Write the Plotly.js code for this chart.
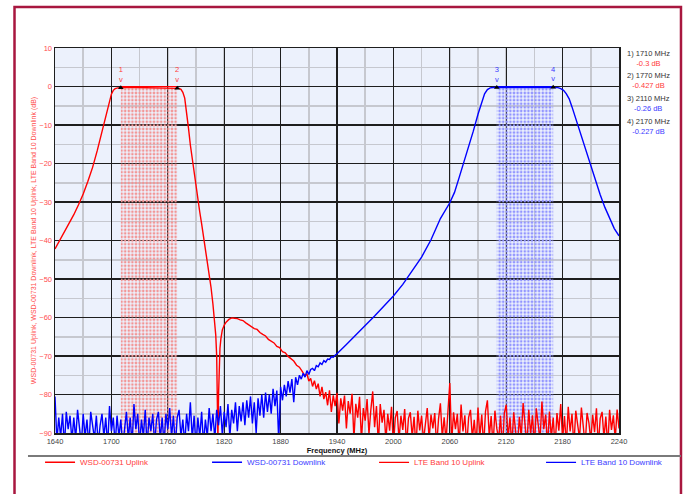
<!DOCTYPE html>
<html><head><meta charset="utf-8">
<script src="https://cdn.plot.ly/plotly-3.0.1.min.js"></script>
<style>html,body{margin:0;padding:0;background:#fff;} #chart{width:686px;height:494px;}</style>
</head><body><div id="chart"></div>
<script>
// ---- WSD-00731 Uplink (red) ----
const upSmoothFreq = [1640,1645,1650,1655,1660,1665,1670,1675,1680,1685,1690,1693,1696,1698,1700,1702,1704,1707,1710,1725,1740,1755,1770,1772,1774,1776,1778,1780,1782,1784,1786,1788,1790,1792,1794,1796,1798,1800,1802,1804,1806,1808,1810,1811,1812,1812.7,1813.3,1814,1814.7,1815.5,1816.5,1818,1820,1822,1825,1828,1831,1834,1837,1840,1843,1846,1849,1852,1855,1858,1861,1864,1867,1870,1873,1876,1879,1882,1885,1888,1891,1894,1897,1900,1903];
const upSmoothDb = [-42.2,-40,-38,-35.7,-33.3,-30.7,-27.9,-24.6,-21,-16.6,-11.7,-8.6,-5.5,-3.6,-2,-1,-0.55,-0.35,-0.3,-0.27,-0.3,-0.35,-0.427,-0.5,-0.75,-1.5,-3,-6.3,-10.8,-15.2,-18.9,-22.5,-26,-29.3,-32.6,-35.7,-38.8,-42,-45.2,-48.5,-52.2,-56.5,-61.5,-64.5,-70,-79,-92,-80,-70.5,-68,-65.5,-63.2,-62,-61.2,-60.5,-60.1,-60.2,-60.3,-60.6,-60.8,-61.4,-61.9,-62.2,-62.9,-63.1,-63.9,-64.4,-64.8,-65.7,-66.1,-66.6,-67.5,-67.8,-68.9,-69.2,-70.1,-70.8,-71.3,-72.4,-72.9,-74.0];
const upNoiseFreq = [1906,1908,1910,1912,1914,1916,1918,1920,1922,1924,1926,1928,1930,1932,1934,1936,1938,1940,1942,1944,1946,1948,1950,1952,1954,1956,1958,1960,1962,1964,1966,1968,1970,1972,1974,1976,1978,1980,1982,1984,1986,1988,1990,1992,1994,1996,1998,2000,2002,2004,2006,2008,2010,2012,2014,2016,2018,2020,2022,2024,2026,2028,2030,2032,2034,2036,2038,2040,2042,2044,2046,2048,2050,2052,2054,2056,2058,2060,2062,2064,2066,2068,2070,2072,2074,2076,2078,2080,2082,2084,2086,2088,2090,2092,2094,2096,2098,2100,2102,2104,2106,2108,2110,2112,2114,2116,2118,2120,2122,2124,2126,2128,2130,2132,2134,2136,2138,2140,2142,2144,2146,2148,2150,2152,2154,2156,2158,2160,2162,2164,2166,2168,2170,2172,2174,2176,2178,2180,2182,2184,2186,2188,2190,2192,2194,2196,2198,2200,2202,2204,2206,2208,2210,2212,2214,2216,2218,2220,2222,2224,2226,2228,2230,2232,2234,2236,2238,2240];
const upNoiseDb = [-75.2,-74.6,-76.5,-75.8,-77.9,-76.4,-78.6,-77.2,-80.5,-78,
-81.2,-79.4,-82.8,-78.9,-84.5,-80.2,-83,-79.6,-87.5,-81,
-84.2,-80.3,-88.8,-81.7,-85,-79.8,-91.5,-82.4,-86,-80.6,
-92,-83.5,-86.8,-81.2,-90.2,-84,-79.2,-88.5,-83,-93,
-82.5,-87.3,-84,-92,-85,-89.4,-83.2,-93.5,-86,-84.3,
-91.8,-85.5,-89.2,-83.8,-93.4,-86.2,-84.6,-91,-85.8,-94,
-84.2,-89.3,-85.5,-92,-86.8,-83.5,-91.6,-85.2,-88.8,-84.8,
-93.5,-86.4,-82.3,-91.2,-85.9,-92.2,-84.5,-77,-92.5,-84.6,
-89,-85,-93.3,-82.6,-89.6,-85.4,-93.6,-86,-84,-91.4,
-86.6,-93.2,-83.4,-90.8,-85.2,-93.5,-84.4,-81.5,-91,-85.6,
-93.4,-84.2,-88.8,-91.6,-85.5,-94.7,-84.8,-82.7,-91.3,-86,
-93.2,-84.6,-89.5,-93.6,-85.8,-91,-82.2,-87.6,-93.1,-84,
-90.2,-85.4,-93.5,-83.6,-87.8,-91.9,-81.8,-89,-85.2,-93.4,
-84.4,-91.2,-86,-93.6,-84.8,-89.4,-82.5,-91.8,-85.6,-93.3,
-83.2,-89.6,-85,-93.5,-84.2,-87.9,-91.4,-83.4,-89.5,-93.2,
-84.8,-87.4,-91.9,-85.3,-89.8,-83.6,-93.4,-86.2,-84.5,-91.3,
-85.7,-93.5,-84,-89.2,-85.4,-91.7,-83.9,-88.8];

// ---- WSD-00731 Downlink (blue) ----
const dnNoiseFreq = [1640,1642,1644,1646,1648,1650,1652,1654,1656,1658,1660,1662,1664,1666,1668,1670,1672,1674,1676,1678,1680,1682,1684,1686,1688,1690,1692,1694,1696,1698,1700,1702,1704,1706,1708,1710,1712,1714,1716,1718,1720,1722,1724,1726,1728,1730,1732,1734,1736,1738,1740,1742,1744,1746,1748,1750,1752,1754,1756,1758,1760,1762,1764,1766,1768,1770,1772,1774,1776,1778,1780,1782,1784,1786,1788,1790,1792,1794,1796,1798,1800,1802,1804,1806,1808,1810,1812,1814,1816,1818,1820,1822,1824,1826,1828,1830,1832,1834,1836,1838,1840,1842,1844,1846,1848,1850,1852,1854,1856,1858,1860,1862,1864,1866,1868,1870,1872,1874,1876,1878,1880,1882,1884,1886,1888,1890,1892,1894,1896,1898,1900,1902,1904,1906,1908,1910,1912,1914,1916,1918,1920,1922,1924,1926,1928,1930,1932,1934,1936,1938];
const dnNoiseDb = [-80.5,-92,-86,-91,-85,-93.5,-84.5,-89,-85.5,-92,
-86,-91.5,-84,-89.5,-93,-85,-91,-86.5,-93.5,-84.5,
-89,-91.5,-85.5,-93,-88,-85,-91,-86,-93.5,-83,
-89.5,-86,-93,-85.5,-91,-86.5,-93.5,-88,-84.5,-91.5,
-86,-93,-82.5,-89,-85,-93,-86.5,-91,-84,-93.5,
-86,-89.5,-85,-93,-86.5,-84.5,-91.5,-86,-93,-85,
-89,-83.5,-91,-85.5,-93.5,-86,-84,-91,-86.5,-93,
-85,-89.5,-82,-91.5,-85.5,-93.5,-86,-91,-84.5,-93,
-86.5,-91,-83.5,-89.5,-85,-91.5,-84,-88,-83,-90.5,
-84.5,-88.5,-82.5,-91,-84,-87.5,-82,-89.5,-83,-87,
-82,-88,-81.5,-86,-80.5,-87.5,-82,-90,-81,-85.5,
-80,-86,-79.5,-84.5,-80,-85,-78.5,-83,-79,-92,
-78,-81.5,-77.5,-80.5,-76.5,-79.5,-76,-82,-75.5,-77.5,
-75,-76,-74.5,-75.5,-73.8,-74.8,-73.5,-73.2,-73.8,-72.5,
-72.8,-71.8,-72.2,-71.2,-71.6,-70.8,-70.9,-70.2,-70.3,-69.8];
const dnSmoothFreq = [1940,1950,1960,1970,1980,1990,2000,2010,2020,2030,2040,2050,2060,2065,2070,2075,2080,2085,2090,2094,2097,2100,2103,2106,2110,2140,2170,2175,2178,2181,2184,2187,2190,2193,2196,2200,2205,2210,2215,2220,2225,2230,2235,2240];
const dnSmoothDb = [-69.4,-67,-64.6,-62.2,-59.6,-57,-54.4,-51.4,-48,-44.3,-39.8,-34.3,-30.2,-27.5,-23.6,-19.8,-15.6,-11.6,-7.2,-4,-1.9,-0.8,-0.35,-0.25,-0.26,-0.2,-0.227,-0.3,-0.55,-1,-1.9,-3.2,-5.3,-7.6,-9.8,-13,-16.9,-20.9,-24.6,-28.1,-31.4,-34.3,-36.9,-38.8];

// ---- LTE Band 10 bands ----
const lteUpBand = [1710, 1770];
const lteDownBand = [2110, 2170];
const bandLevel = 0;
const bandFloor = -90;

// ---- Markers ----
const markerFreq = [1710, 1770, 2110, 2170];
const markerDb = [-0.3, -0.427, -0.26, -0.227];
const markerLabels = ['1', '2', '3', '4'];

// ---- Axis ticks ----
const xTicks = [1640,1700,1760,1820,1880,1940,2000,2060,2120,2180,2240];
const yTicks = [10,0,-10,-20,-30,-40,-50,-60,-70,-80,-90];

const RED = '#ff0000', BLUE = '#0000ff';
const RED_TXT = '#ff3b3b', BLUE_TXT = '#3b3bff';
const markerColors = [RED_TXT, RED_TXT, BLUE_TXT, BLUE_TXT];

function rect(band) {
  return {x: [band[0], band[0], band[1], band[1], band[0]], y: [bandFloor, bandLevel, bandLevel, bandFloor, bandFloor]};
}
const upRect = rect(lteUpBand), dnRect = rect(lteDownBand);

const traces = [
  {x: upRect.x, y: upRect.y, type: 'scatter', mode: 'lines', fill: 'toself', line: {width: 0, color: 'rgba(0,0,0,0)'},
   fillcolor: 'rgba(0,0,0,0)',
   fillpattern: {shape: '.', size: 3.6, solidity: 0.42, fgcolor: '#f29494', bgcolor: 'rgba(0,0,0,0)'},
   showlegend: false, hoverinfo: 'skip', legendgroup: 'lteup'},
  {x: dnRect.x, y: dnRect.y, type: 'scatter', mode: 'lines', fill: 'toself', line: {width: 0, color: 'rgba(0,0,0,0)'},
   fillcolor: 'rgba(0,0,0,0)',
   fillpattern: {shape: '.', size: 3.6, solidity: 0.42, fgcolor: '#9194ff', bgcolor: 'rgba(0,0,0,0)'},
   showlegend: false, hoverinfo: 'skip', legendgroup: 'ltedn'},
  {x: upSmoothFreq.concat(upNoiseFreq), y: upSmoothDb.concat(upNoiseDb), type: 'scatter', mode: 'lines',
   name: '<span style="color:' + RED_TXT + '">WSD-00731 Uplink</span>', line: {color: RED, width: 1.4}},
  {x: dnNoiseFreq.concat(dnSmoothFreq), y: dnNoiseDb.concat(dnSmoothDb), type: 'scatter', mode: 'lines',
   name: '<span style="color:' + BLUE_TXT + '">WSD-00731 Downlink</span>', line: {color: BLUE, width: 1.4}},
  {x: lteUpBand, y: [bandLevel, bandLevel], type: 'scatter', mode: 'lines', legendgroup: 'lteup',
   name: '<span style="color:' + RED_TXT + '">LTE Band 10 Uplink</span>', line: {color: RED, width: 1.2}},
  {x: lteDownBand, y: [bandLevel, bandLevel], type: 'scatter', mode: 'lines', legendgroup: 'ltedn', legendwidth: 88,
   name: '<span style="color:' + BLUE_TXT + '">LTE Band 10 Downlink</span>', line: {color: BLUE, width: 1.2}},
  {x: markerFreq, y: markerDb, type: 'scatter', mode: 'markers+text', showlegend: false,
   marker: {symbol: 'triangle-up', size: 5, color: '#000'},
   text: markerLabels.map(l => l + '<br>v'), textposition: 'top center',
   textfont: {size: 7.5, color: markerColors}}
];

// right-side readouts
const readoutY = [0.974, 0.916, 0.857, 0.797];
const annotations = markerFreq.map((f, i) => ({
  xref: 'paper', yref: 'paper', x: 1.0523, y: readoutY[i], xanchor: 'center', yanchor: 'middle', align: 'center',
  showarrow: false, font: {size: 7.5, color: '#333'},
  text: markerLabels[i] + ') ' + f + ' MHz<br><span style="color:' + markerColors[i] + '">' + markerDb[i] + ' dB</span>'
}));

const layout = {
  width: 686, height: 494,
  margin: {l: 55, r: 67, t: 48, b: 61, pad: 0, autoexpand: false},
  paper_bgcolor: '#ffffff',
  plot_bgcolor: '#ecf1fc',
  font: {family: 'Liberation Sans, Arial, sans-serif', size: 8, color: '#333'},
  showlegend: true,
  legend: {orientation: 'h', x: 1.0976, y: -0.0385, xanchor: 'right', yanchor: 'top',
           entrywidth: 122, entrywidthmode: 'pixels', font: {size: 8}, bgcolor: 'rgba(0,0,0,0)',
           traceorder: 'normal'},
  xaxis: {range: [1640, 2240], tickvals: xTicks, showgrid: true, gridcolor: '#1e1e1e', gridwidth: 1.3,
          minor: {dtick: 30, tick0: 1640, showgrid: true, gridcolor: '#c6c8cf', gridwidth: 1.5},
          showline: true, linecolor: '#1e1e1e', linewidth: 1.5, mirror: true, zeroline: false, ticks: '',
          tickfont: {size: 7.5, color: '#444'},
          title: {text: '<b>Frequency (MHz)</b>', font: {size: 7.5, color: '#111'}, standoff: 3}},
  yaxis: {range: [-90, 10], tickvals: yTicks, showgrid: true, gridcolor: '#1e1e1e', gridwidth: 1.3,
          minor: {dtick: 5, tick0: 0, showgrid: true, gridcolor: '#c6c8cf', gridwidth: 1.5},
          showline: true, linecolor: '#1e1e1e', linewidth: 1.5, mirror: true, zeroline: false, ticks: '',
          tickfont: {size: 7.5, color: '#ff4d4d'},
          title: {text: 'WSD-00731 Uplink, WSD-00731 Downlink, LTE Band 10 Uplink, LTE Band 10 Downlink (dB)',
                  font: {size: 7, color: '#ff4d4d'}, standoff: 2}},
  shapes: [
    {type: 'rect', xref: 'paper', yref: 'paper', x0: -0.0718, x1: 1.1099, y0: -0.3, y1: 1.1065,
     line: {color: '#a8173f', width: 2.5}, fillcolor: 'rgba(0,0,0,0)', layer: 'above'},
    {type: 'line', xref: 'paper', yref: 'paper', x0: -0.0479, x1: 1.1099, y0: -0.0597, y1: -0.0597,
     line: {color: '#7a7a7a', width: 2}}
  ],
  annotations: annotations
};

Plotly.newPlot('chart', traces, layout, {staticPlot: true, displayModeBar: false});
</script></body></html>
